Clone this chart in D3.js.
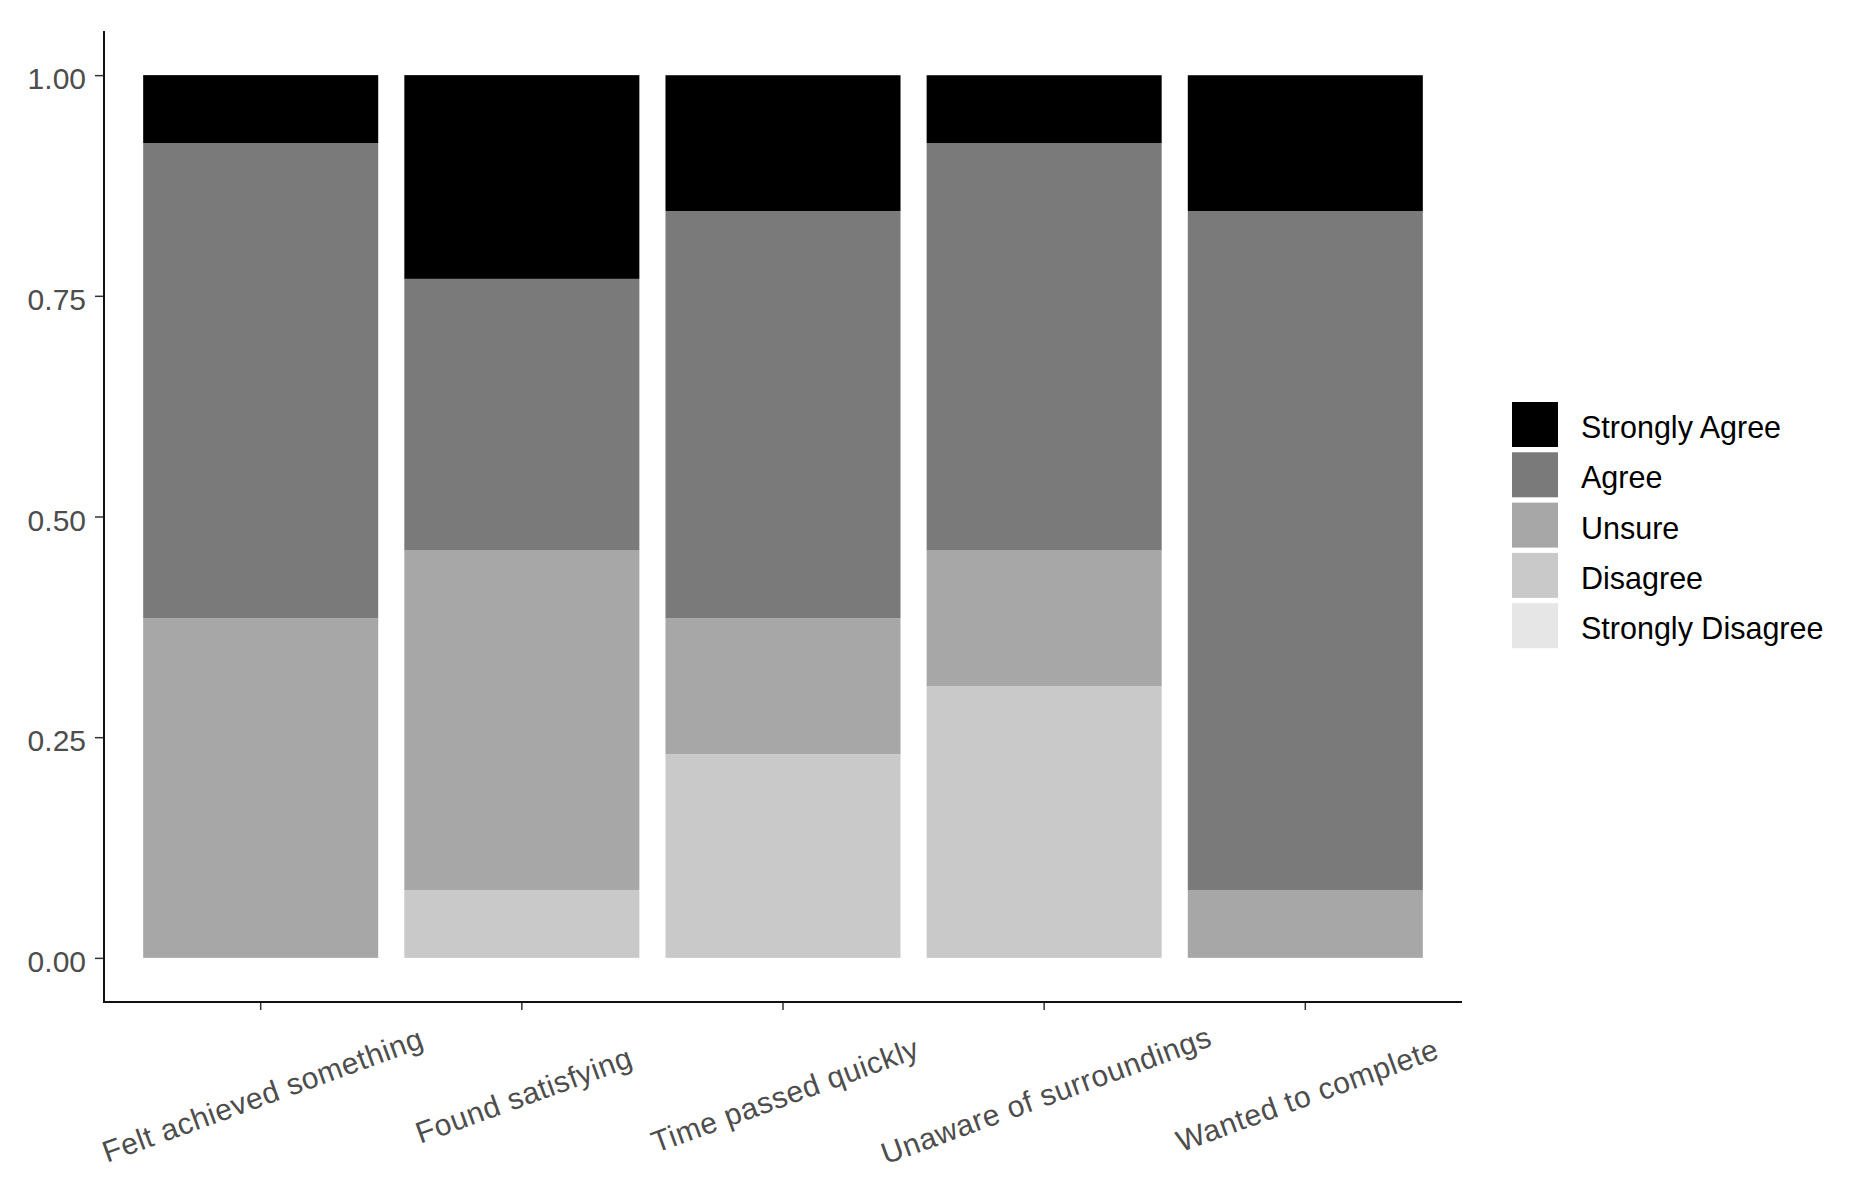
<!DOCTYPE html>
<html lang="en">
	<head>
		<meta charset="utf-8">
		<title>Likert stacked bars</title>

		<script type="text/javascript" src="https://d3js.org/d3.v7.min.js"></script>

		<style type="text/css">
			body {
				margin: 0;
				background: white;
			}
			text {
				font-family: 'Liberation Sans', Arial, sans-serif;
			}
		</style>
	</head>
	<body>

		<div id="chart"></div>

		<script type="text/javascript">

		//Data (proportions of respondents)
		var categories = ["Felt achieved something", "Found satisfying", "Time passed quickly", "Unaware of surroundings", "Wanted to complete"];
		var levels = ["Strongly Agree", "Agree", "Unsure", "Disagree", "Strongly Disagree"];
		var levelColors = ["#000000", "#7A7A7A", "#A7A7A7", "#C9C9C9", "#E6E6E6"];

		var stronglyAgree = [0.0769, 0.2308, 0.1538, 0.0769, 0.1538];
		var agree = [0.5385, 0.3077, 0.4615, 0.4615, 0.7692];
		var unsure = [0.3846, 0.3846, 0.1538, 0.1538, 0.0769];
		var disagree = [0, 0.0769, 0.2308, 0.3077, 0];
		var stronglyDisagree = [0, 0, 0, 0, 0];

		var yTicks = [0, 0.25, 0.5, 0.75, 1];
		var yTickLabels = ["0.00", "0.25", "0.50", "0.75", "1.00"];

		//Size
		var w = 1850;
		var h = 1190;
		var plotLeft = 104, plotRight = 1462, plotTop = 31, plotBottom = 1002;

		//Build table for d3.stack
		var series = {
			"Strongly Agree": stronglyAgree,
			"Agree": agree,
			"Unsure": unsure,
			"Disagree": disagree,
			"Strongly Disagree": stronglyDisagree
		};
		var table = categories.map(function(c, i) {
			var row = {cat: c};
			levels.forEach(function(l) { row[l] = series[l][i]; });
			return row;
		});

		//bottom to top: Strongly Disagree first
		var stackKeys = levels.slice().reverse();
		var stacked = d3.stack().keys(stackKeys)(table);

		var color = d3.scaleOrdinal()
			.domain(levels)
			.range(levelColors);

		var x = d3.scaleBand()
			.domain(categories)
			.range([plotLeft, plotRight])
			.paddingInner(0.1)
			.paddingOuter(0.15);

		var y = d3.scaleLinear()
			.domain([-0.05, 1.05])
			.range([plotBottom, plotTop]);

		var svg = d3.select("#chart")
			.append("svg")
			.attr("width", w)
			.attr("height", h);

		//Bars
		svg.append("g")
			.selectAll("g")
			.data(stacked)
			.enter()
			.append("g")
			.attr("fill", function(d) { return color(d.key); })
			.selectAll("rect")
			.data(function(d) { return d; })
			.enter()
			.append("rect")
			.attr("x", function(d) { return x(d.data.cat); })
			.attr("width", x.bandwidth())
			.attr("y", function(d) { return y(d[1]); })
			.attr("height", function(d) { return y(d[0]) - y(d[1]); });

		//Y axis
		var yAxis = svg.append("g")
			.attr("transform", "translate(" + plotLeft + ",0)")
			.call(d3.axisLeft(y)
				.tickValues(yTicks)
				.tickFormat(function(d, i) { return yTickLabels[i]; })
				.tickSize(9)
				.tickPadding(9));
		yAxis.select(".domain").remove();
		yAxis.selectAll(".tick line").attr("stroke", "#333333").attr("stroke-width", 1.5);
		yAxis.selectAll(".tick text")
			.attr("fill", "#4D4D4D")
			.attr("font-size", 30)
			.attr("font-family", "'Liberation Sans', Arial, sans-serif")
			.attr("dy", "0.45em");

		//X axis
		var xAxis = svg.append("g")
			.attr("transform", "translate(0," + plotBottom + ")")
			.call(d3.axisBottom(x).tickSize(8).tickFormat(""));
		xAxis.select(".domain").remove();
		xAxis.selectAll(".tick line").attr("stroke", "#333333").attr("stroke-width", 1.5);

		svg.append("g")
			.selectAll("text")
			.data(categories)
			.enter()
			.append("text")
			.attr("transform", function(d) {
				return "translate(" + (x(d) + x.bandwidth() / 2 + 2) + ",1095) rotate(-20)";
			})
			.attr("text-anchor", "middle")
			.attr("dominant-baseline", "central")
			.attr("fill", "#4D4D4D")
			.attr("font-size", 30)
			.attr("letter-spacing", 0.6)
			.text(function(d) { return d; });

		//Axis lines
		svg.append("line")
			.attr("x1", plotLeft).attr("x2", plotLeft)
			.attr("y1", plotTop).attr("y2", plotBottom + 1)
			.attr("stroke", "#111").attr("stroke-width", 2);
		svg.append("line")
			.attr("x1", plotLeft - 1).attr("x2", plotRight)
			.attr("y1", plotBottom).attr("y2", plotBottom)
			.attr("stroke", "#111").attr("stroke-width", 2);

		//Legend
		var legend = svg.append("g")
			.attr("transform", "translate(1512,402)");

		var item = legend.selectAll("g")
			.data(levels)
			.enter()
			.append("g")
			.attr("transform", function(d, i) { return "translate(0," + (i * 50.3) + ")"; });

		item.append("rect")
			.attr("width", 46)
			.attr("height", 45)
			.attr("fill", function(d) { return color(d); });

		item.append("text")
			.attr("x", 69)
			.attr("y", 25)
			.attr("dy", "0.36em")
			.attr("font-size", 30.5)
			.attr("fill", "#000")
			.text(function(d) { return d; });

		</script>
	</body>
</html>
